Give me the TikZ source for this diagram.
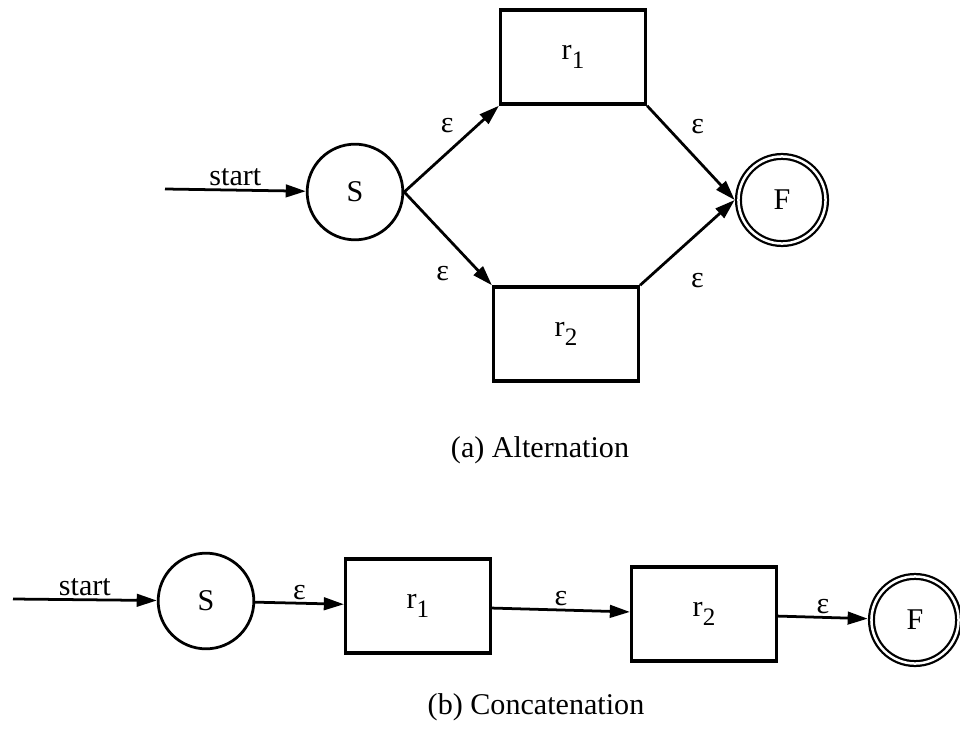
\documentclass[tikz,border=0pt]{standalone}
\usepackage{fontspec}
\setmainfont{Liberation Serif}
\usepackage{tikz}
\usetikzlibrary{
    arrows.meta,
    positioning
}

% lowered, slightly smaller index digit
\newcommand{\idx}[1]{\raisebox{-3.3pt}{\fontsize{10}{12}\selectfont #1}}

\begin{document}
\begin{tikzpicture}[
      x=0.014cm, y=-0.014cm,
      font=\fontsize{12}{14}\selectfont,
      state/.style={circle, draw, line width=1.1pt, minimum size=13.4mm, inner sep=0pt},
      final/.style={state, line width=0.9pt, double, double distance=1pt, minimum size=12.2mm, outer sep=1.5pt},
      regex/.style={draw, line width=1.3pt, minimum width=20.3mm, minimum height=13.2mm, inner sep=0pt},
      arrow/.style={-{Triangle[length=8pt,width=5pt]}, line width=1.1pt},
      eps/.style={inner sep=1pt}
    ]
    \useasboundingbox (0,0) rectangle (960,729);

    % alternation
    \coordinate (st1) at (165,189);
    \node[state] (S1) at (355,192) {S};
    \node[regex] (r1a) at (573,57) {r\idx{1}};
    \node[regex] (r2a) at (566,334) {r\idx{2}};
    \node[final] (F1) at (782,200) {F};

    \draw[arrow] (st1) -- node[above, eps] {start} (S1);
    \draw[arrow] (S1.east) -- node[pos=0.6, above left=2pt, eps] {ε} (r1a.south west);
    \draw[arrow] (S1.east) -- node[pos=0.87, left=11pt, eps] {ε} (r2a.north west);
    \draw[arrow] (r1a.south east) -- node[pos=0.4, above right=3pt, eps] {ε} (F1.west);
    \draw[arrow] (r2a.north east) -- node[pos=0.3, below right={4pt and 7.5pt}, eps] {ε} (F1.west);

    \node (capA) at (540,450) {(a) Alternation};

    % concatenation
    \coordinate (st2) at (13,599);
    \node[state] (S2) at (206,601) {S};
    \node[regex] (r1b) at (418,606) {r\idx{1}};
    \node[regex] (r2b) at (704,614) {r\idx{2}};
    \node[final] (F2) at (915,620) {F};

    \draw[arrow] (st2) -- node[above, eps] {start} (S2);
    \draw[arrow] (S2) -- node[above, eps] {ε} (r1b);
    \draw[arrow] (r1b) -- node[above, eps] {ε} (r2b);
    \draw[arrow] (r2b) -- node[above, eps] {ε} (F2);

    \node (capB) at (536,707) {(b) Concatenation};
  \end{tikzpicture}
\end{document}
